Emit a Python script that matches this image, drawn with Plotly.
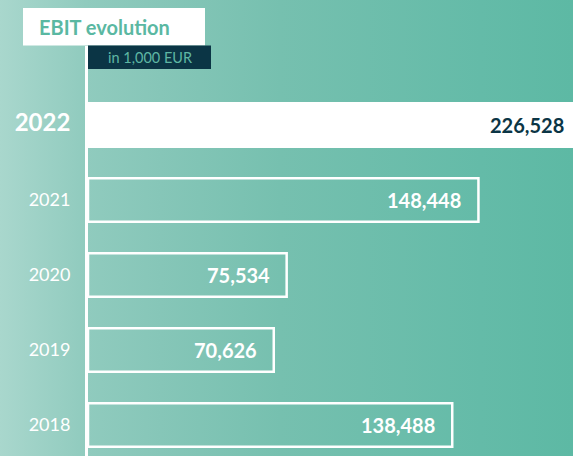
import base64
import plotly.graph_objects as go

# ---- data ----
years = ["2018", "2019", "2020", "2021", "2022"]
ebit = [138488, 70626, 75534, 148448, 226528]
value_labels = ["138,488", "70,626", "75,534", "148,448", "226,528"]
tick_labels = ["2018", "2019", "2020", "2021", "<span style='font-size:24px'><b>2022</b></span>"]
highlight_year = "2022"
title_text = "EBIT evolution"
unit_text = "in 1,000 EUR"

# ---- geometry (pixels) ----
W, H = 573, 456
ML, MT = 88, 46
PW, PH = W - ML, H - MT
XMAX = 184400


def px(x):
    return (x - ML) / PW


def py(y):
    return 1 - (y - MT) / PH


NAVY = "#0b3545"
TEAL_TXT = "#5ab8a2"

# gradient background as svg image
stops = [(0, "#a9d7cd"), (0.15, "#90cbbe"), (0.28, "#86c6b8"), (0.49, "#76c0af"),
         (0.84, "#64bba8"), (1, "#5db9a4")]
stop_xml = "".join(f'<stop offset="{o}" stop-color="{c}"/>' for o, c in stops)
svg = (f'<svg xmlns="http://www.w3.org/2000/svg" width="{W}" height="{H}" '
       f'viewBox="0 0 {W} {H}" preserveAspectRatio="none"><defs>'
       f'<linearGradient id="g" x1="0" x2="1" y1="0" y2="0">{stop_xml}</linearGradient>'
       f'</defs><rect width="{W}" height="{H}" fill="url(#g)"/></svg>')
src = "data:image/svg+xml;base64," + base64.b64encode(svg.encode()).decode()

fills = ["white" if y == highlight_year else "rgba(0,0,0,0)" for y in years]

fig = go.Figure()
fig.add_trace(go.Bar(
    y=years, x=ebit, orientation="h", width=0.58,
    marker=dict(color=fills, line=dict(color="white", width=2.5)),
    hoverinfo="skip",
))

annotations = []
for i, (y, v, lab) in enumerate(zip(years, ebit, value_labels)):
    is_hl = y == highlight_year
    xv = min(v, XMAX)
    annotations.append(dict(
        x=xv, y=i, xref="x", yref="y", text=f"<b>{lab}</b>", showarrow=False,
        xanchor="right", yanchor="middle", xshift=-7 if v > XMAX else -15,
        font=dict(family="Lato", size=20, color=NAVY if is_hl else "white"),
    ))

annotations.append(dict(
    x=px(37), y=py(27), xref="paper", yref="paper", text=f"<b>{title_text}</b>",
    showarrow=False, xanchor="left", yanchor="middle",
    font=dict(family="Lato", size=20, color=TEAL_TXT),
))
annotations.append(dict(
    x=px(106), y=py(57.5), xref="paper", yref="paper", text=unit_text,
    showarrow=False, xanchor="left", yanchor="middle",
    font=dict(family="Lato", size=14.5, color="#5fb7a4"),
))

shapes = [
    dict(type="rect", xref="paper", yref="paper", x0=px(23), x1=px(205), y0=py(8), y1=py(45.5),
         fillcolor="white", line=dict(width=0), layer="above"),
    dict(type="rect", xref="paper", yref="paper", x0=px(88), x1=px(211), y0=py(45.5), y1=py(69),
         fillcolor=NAVY, line=dict(width=0), layer="above"),
]

fig.update_layout(
    width=W, height=H,
    margin=dict(l=ML, r=0, t=MT, b=0, pad=0),
    paper_bgcolor="#86c6b8", plot_bgcolor="rgba(0,0,0,0)",
    showlegend=False,
    images=[dict(source=src, xref="paper", yref="paper", x=px(0), y=py(0),
                 sizex=W / PW, sizey=H / PH, xanchor="left", yanchor="top",
                 sizing="stretch", layer="below")],
    xaxis=dict(range=[0, XMAX], visible=False, fixedrange=True),
    yaxis=dict(
        type="category", categoryorder="array", categoryarray=years,
        range=[-31 / 75, 4 + (125 - MT) / 75],
        tickvals=years, ticktext=tick_labels,
        showline=True, linecolor="white", linewidth=3,
        showgrid=False, zeroline=False, ticks="",
        ticklabelstandoff=11,
        tickfont=dict(family="Lato", size=18, color="white"),
        fixedrange=True,
    ),
    annotations=annotations,
    shapes=shapes,
    font=dict(family="Lato"),
)

fig.write_html("out.html", config={"displayModeBar": False})

# remove default page margin so the chart sits at the window origin
with open("out.html", "r", encoding="utf-8") as f:
    html = f.read()
html = html.replace("<head>", "<head><style>html,body{margin:0;padding:0;overflow:hidden;}</style>", 1)
with open("out.html", "w", encoding="utf-8") as f:
    f.write(html)
